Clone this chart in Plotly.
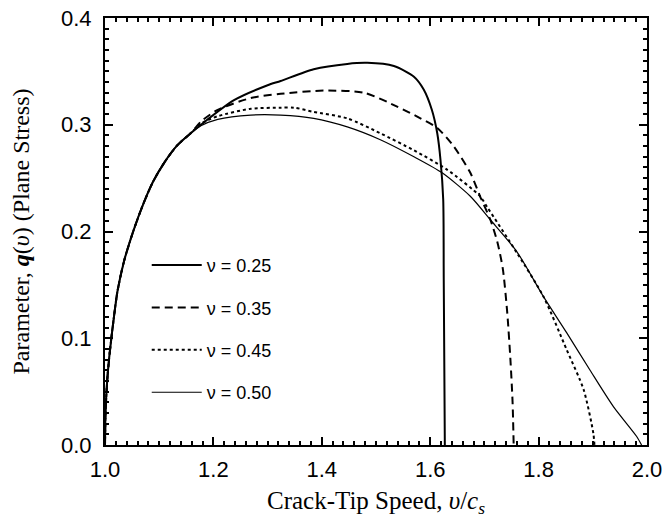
import plotly.graph_objects as go

# rising branch shared by all four curves
v_rise = [1.000, 1.001, 1.004, 1.009, 1.016, 1.023, 1.035, 1.052, 1.070, 1.089, 1.110, 1.132, 1.158]
q_rise = [0.000, 0.030, 0.060, 0.088, 0.118, 0.144, 0.172, 0.200, 0.225, 0.247, 0.265, 0.280, 0.292]

v_025 = [1.177, 1.238, 1.300, 1.324, 1.385, 1.447, 1.484, 1.533, 1.570, 1.588, 1.603, 1.613, 1.619, 1.624, 1.625, 1.627]
q_025 = [0.300, 0.323, 0.337, 0.341, 0.352, 0.357, 0.358, 0.355, 0.345, 0.333, 0.314, 0.292, 0.267, 0.230, 0.155, 0.000]

v_035 = [1.177, 1.208, 1.269, 1.324, 1.404, 1.478, 1.539, 1.582, 1.613, 1.643, 1.674, 1.692, 1.711, 1.724, 1.734, 1.742, 1.748, 1.752, 1.754]
q_035 = [0.303, 0.314, 0.325, 0.329, 0.332, 0.330, 0.317, 0.306, 0.297, 0.280, 0.255, 0.233, 0.211, 0.190, 0.165, 0.125, 0.080, 0.040, 0.000]

v_045 = [1.177, 1.208, 1.269, 1.324, 1.349, 1.385, 1.447, 1.508, 1.570, 1.631, 1.692, 1.705, 1.760, 1.809, 1.852, 1.883, 1.901, 1.903]
q_045 = [0.301, 0.308, 0.315, 0.316, 0.316, 0.312, 0.306, 0.292, 0.276, 0.258, 0.233, 0.223, 0.180, 0.139, 0.089, 0.052, 0.011, 0.000]

v_050 = [1.177, 1.208, 1.269, 1.324, 1.385, 1.447, 1.508, 1.570, 1.622, 1.674, 1.711, 1.760, 1.809, 1.852, 1.895, 1.938, 1.981, 1.990]
q_050 = [0.299, 0.305, 0.309, 0.309, 0.306, 0.298, 0.286, 0.270, 0.255, 0.233, 0.211, 0.181, 0.139, 0.105, 0.070, 0.036, 0.008, 0.000]

labels = ["ν = 0.25", "ν = 0.35", "ν = 0.45", "ν = 0.50"]
series = [(v_025, q_025), (v_035, q_035), (v_045, q_045), (v_050, q_050)]
dashes = ["solid", "8px,5px", "3px,3px", "solid"]
widths = [2, 2, 2, 1.2]

fig = go.Figure()
for i, (vv, qq) in enumerate(series):
    fig.add_trace(
        go.Scatter(
            x=v_rise + vv,
            y=q_rise + qq,
            mode="lines",
            name=labels[i],
            legendgroup=str(i),
            line=dict(color="black", width=widths[i], dash=dashes[i], shape="spline", smoothing=0.7),
        )
    )

axis_common = dict(
    showline=True,
    linecolor="black",
    linewidth=2,
    mirror="allticks",
    ticks="inside",
    ticklen=8,
    tickwidth=1.5,
    tickcolor="black",
    showgrid=False,
    zeroline=False,
    automargin=False,
    ticklabeloverflow="allow",
    tickformat=".1f",
    tickfont=dict(family="Liberation Sans, Arial", size=22, color="black"),
)

serif = "Liberation Serif, Times New Roman"

fig.update_layout(
    width=663,
    height=525,
    margin=dict(l=105, r=16, t=18, b=80),
    paper_bgcolor="white",
    plot_bgcolor="white",
    showlegend=True,
    legend=dict(
        x=0.077,
        y=0.464,
        xanchor="left",
        yanchor="top",
        bgcolor="rgba(0,0,0,0)",
        font=dict(family="Liberation Sans, Arial", size=18, color="black"),
        tracegroupgap=16,
        itemwidth=50,
    ),
    xaxis=dict(
        axis_common,
        range=[1.0, 2.0],
        dtick=0.2,
        tick0=1.0,
        ticklabelstandoff=4,
        minor=dict(dtick=0.02, ticklen=4, ticks="inside", tickcolor="black"),
        title=dict(
            text="Crack-Tip Speed, <i>υ</i>/<i>c<sub>s</sub></i>",
            font=dict(family=serif, size=25, color="black"),
            standoff=10,
        ),
    ),
    yaxis=dict(
        axis_common,
        range=[0.0, 0.4],
        dtick=0.1,
        ticklabelstandoff=7,
        minor=dict(dtick=0.01, ticklen=4, ticks="inside", tickcolor="black"),
        title=dict(
            text="Parameter, <b><i>q</i></b>(<i>υ</i>) (Plane Stress)",
            font=dict(family=serif, size=24, color="black"),
            standoff=25,
        ),
    ),
)

# drop the browser's default 8px body margin so the figure fills the window
fig.write_html(
    "out.html",
    config={"displayModeBar": False},
    post_script="document.body.style.margin='0';",
)
